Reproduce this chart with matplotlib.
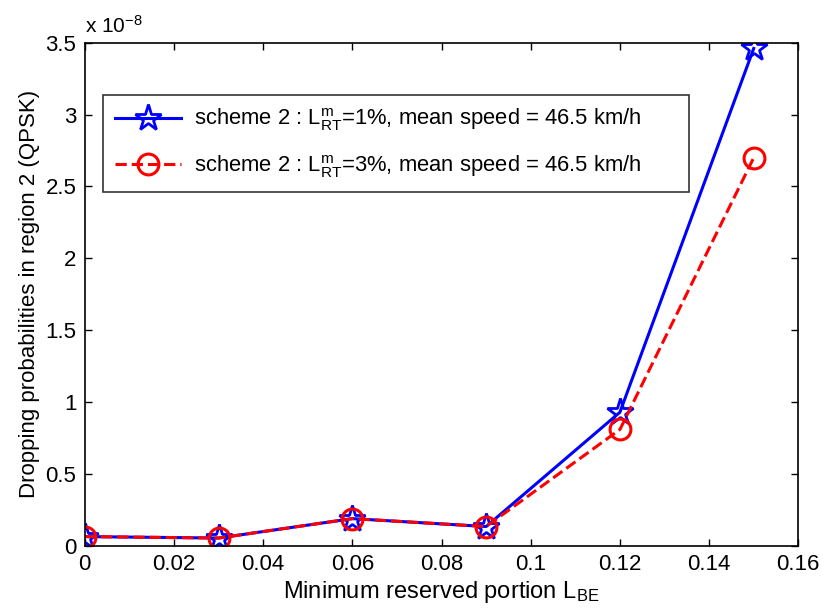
import numpy as np
import matplotlib
matplotlib.use("Agg")
import matplotlib.pyplot as plt
from matplotlib.ticker import FuncFormatter

# ============================================================
# DATOS (probabilidades en unidades de 1e-8)
# ============================================================

l_be = [0, 0.03, 0.06, 0.09, 0.12, 0.15]
prob_1pct = [0.065, 0.055, 0.19, 0.135, 0.93, 3.46]
prob_3pct = [0.065, 0.055, 0.19, 0.135, 0.81, 2.70]

label_1pct = r"scheme 2 : L$^{\rm m}_{\rm RT}$=1%, mean speed = 46.5 km/h"
label_3pct = r"scheme 2 : L$^{\rm m}_{\rm RT}$=3%, mean speed = 46.5 km/h"

escala = 1e-8

# ============================================================
# ESTILO
# ============================================================

plt.rcParams["font.family"] = ["Liberation Sans", "DejaVu Sans"]
plt.rcParams["mathtext.fontset"] = "custom"
plt.rcParams["mathtext.rm"] = "Liberation Sans"
plt.rcParams["mathtext.it"] = "Liberation Sans"
plt.rcParams["mathtext.default"] = "regular"

fig = plt.figure(figsize=(8.23, 6.10), dpi=100)
ax = fig.add_axes([0.103, 0.105, 0.867, 0.825])

ax.plot(l_be, np.array(prob_1pct) * escala, color="blue", linestyle="-",
        linewidth=2.2, marker="*", markersize=20, markerfacecolor="none",
        markeredgecolor="blue", markeredgewidth=2, label=label_1pct)
ax.plot(l_be, np.array(prob_3pct) * escala, color="red", linestyle="--",
        linewidth=2.2, marker="o", markersize=15, markerfacecolor="none",
        markeredgecolor="red", markeredgewidth=2.2, label=label_3pct)

ax.set_xlim(0, 0.16)
ax.set_ylim(0, 3.5 * escala)
ax.set_xticks(np.arange(0, 0.161, 0.02))
ax.set_yticks(np.arange(0, 3.51, 0.5) * escala)
ax.xaxis.set_major_formatter(FuncFormatter(lambda v, p: "%g" % round(v, 3)))
ax.yaxis.set_major_formatter(FuncFormatter(lambda v, p: "%g" % round(v / escala, 2)))

ax.tick_params(direction="in", top=True, right=True, length=5, width=1,
               labelsize=16, pad=6)
for s in ax.spines.values():
    s.set_linewidth(1.2)

ax.text(0.0, 1.012, r"x 10$^{-8}$", transform=ax.transAxes, fontsize=15,
        ha="left", va="bottom")

ax.set_xlabel(r"Minimum reserved portion L$_{\rm BE}$", fontsize=17, labelpad=3)
ax.set_ylabel("Dropping probabilities in region 2 (QPSK)", fontsize=16, labelpad=4)

# caja de leyenda al estilo MATLAB (más ancha que el texto)
leg = ax.legend(loc="upper left", bbox_to_anchor=(0.0252, 0.897, 0.821, 0.0),
                mode="expand", fontsize=15.8, frameon=True, fancybox=False,
                edgecolor="black", handlelength=3.0, handletextpad=0.6,
                borderpad=0.55, labelspacing=0.9, borderaxespad=0.0)
leg.get_frame().set_linewidth(1.2)

plt.savefig("out.png", dpi=100)
plt.close()
